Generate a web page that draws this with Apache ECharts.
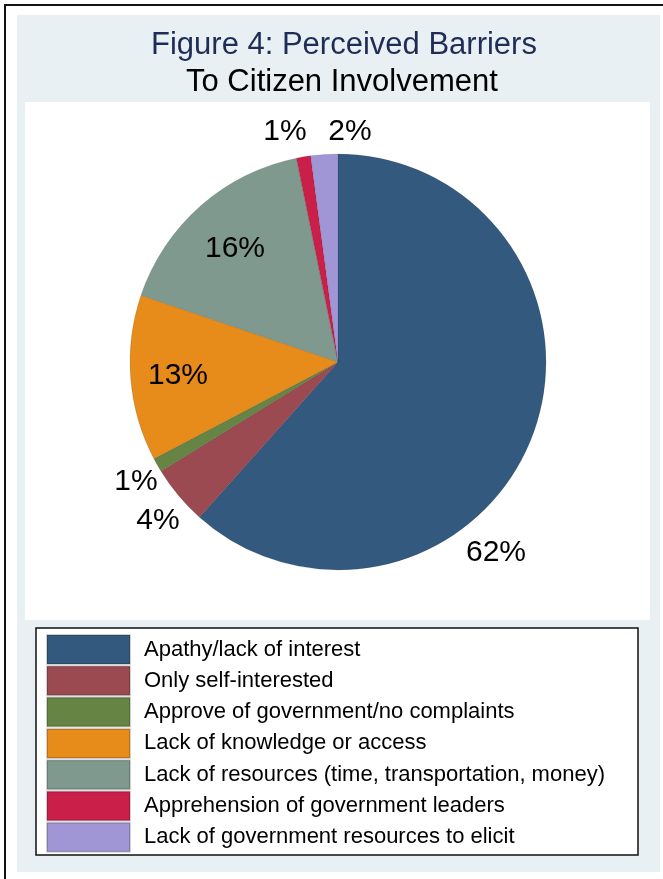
<!DOCTYPE html>
<html>
<head>
<meta charset="utf-8">
<script src="https://cdn.jsdelivr.net/npm/echarts@6/dist/echarts.min.js"></script>
<style>
  html, body { margin: 0; padding: 0; background: #ffffff; }
  #main { width: 663px; height: 879px; }
</style>
</head>
<body>
<div id="main"></div>
<script>
// categories, shares (percent) and the printed labels
var categories = [
    'Apathy/lack of interest',
    'Only self-interested',
    'Approve of government/no complaints',
    'Lack of knowledge or access',
    'Lack of resources (time, transportation, money)',
    'Apprehension of government leaders',
    'Lack of government resources to elicit'
];
var shares = [61.6, 4.6, 1.1, 12.9, 16.6, 1.1, 2.1];
var shareLabels = ['62%', '4%', '1%', '13%', '16%', '1%', '2%'];
var sliceColors = ['#335a7e', '#9a4a50', '#668443', '#e78b1b', '#7f998e', '#c91f48', '#a096d6'];

var cx = 338, cy = 362, rad = 208;
// where each percent label sits, offset from the pie centre (px)
var labelOffsets = [[158, 191], [-180, 159], [-202, 120], [-160, 14], [-103, -113], [-53, -230], [12, -230]];

function pieData() {
    var out = [];
    for (var i = 0; i < categories.length; i++) {
        out.push({
            name: categories[i],
            value: shares[i],
            itemStyle: { color: sliceColors[i] }
        });
    }
    return out;
}

var myChart = echarts.init(document.getElementById('main'));
var option = {
    backgroundColor: '#ffffff',
    animation: false,
    graphic: [
        // outer frame (runs off the right and bottom edge)
        { type: 'rect', shape: { x: 5, y: 5, width: 700, height: 900 },
          style: { fill: '#ffffff', stroke: '#111111', lineWidth: 2 }, z: -10 },
        { type: 'rect', shape: { x: 17, y: 15, width: 643, height: 857 },
          style: { fill: '#e8f0f3' }, z: -9 },
        { type: 'rect', shape: { x: 25, y: 102, width: 625, height: 518 },
          style: { fill: '#ffffff' }, z: -8 },
        // legend box
        { type: 'rect', shape: { x: 36, y: 628, width: 602, height: 227 },
          style: { fill: '#ffffff', stroke: '#111111', lineWidth: 1.5 }, z: -8 }
    ],
    title: [
        {
            text: 'Figure 4: Perceived Barriers',
            left: 146,
            top: 25,
            textStyle: { color: '#1f2d56', fontFamily: 'Liberation Sans', fontWeight: 'normal', fontSize: 31 }
        },
        {
            text: 'To Citizen Involvement',
            left: 181,
            top: 62,
            textStyle: { color: '#000000', fontFamily: 'Liberation Sans', fontWeight: 'normal', fontSize: 31 }
        }
    ],
    legend: {
        orient: 'vertical',
        left: 46,
        top: 634,
        padding: 0,
        itemWidth: 83,
        itemHeight: 29,
        itemGap: 0.3,
        icon: 'rect',
        selectedMode: false,
        data: categories,
        textStyle: {
            color: '#000000',
            fontFamily: 'Liberation Sans',
            fontSize: 22,
            lineHeight: 29,
            height: 29,
            padding: [0, 0, 0, 9]
        }
    },
    series: [
        {
            name: 'Barriers',
            type: 'pie',
            center: [cx, cy],
            radius: [0, rad],
            startAngle: 90,
            clockwise: true,
            silent: true,
            avoidLabelOverlap: false,
            itemStyle: { borderColor: 'rgba(0,0,0,0.18)', borderWidth: 0.6 },
            label: {
                show: true,
                position: 'inside',
                formatter: function (p) { return shareLabels[p.dataIndex]; },
                color: '#000000',
                fontFamily: 'Liberation Sans',
                fontSize: 30
            },
            labelLine: { show: false },
            labelLayout: function (p) {
                var o = labelOffsets[p.dataIndex];
                return { x: cx + o[0], y: cy + o[1], align: 'center', verticalAlign: 'middle' };
            },
            data: pieData()
        }
    ]
};
myChart.setOption(option);
</script>
</body>
</html>
